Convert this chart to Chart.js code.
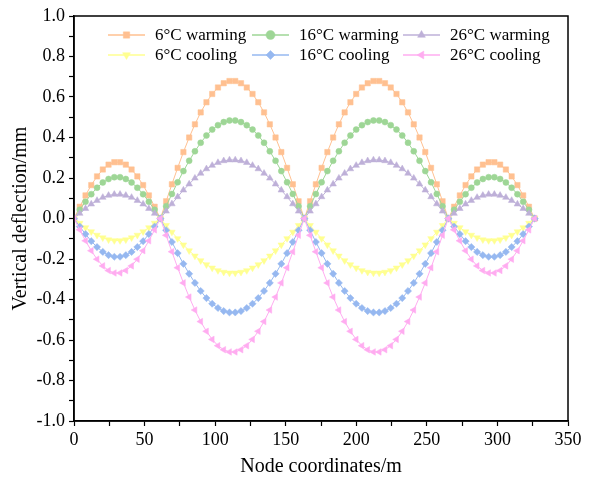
<!DOCTYPE html>
<html>
<head>
<meta charset="utf-8">
<script src="https://cdn.jsdelivr.net/npm/chart.js@4.4.1/dist/chart.umd.min.js"></script>
<style>
html,body{margin:0;padding:0;background:#fff;}
#c{display:block;}
</style>
</head>
<body>
<canvas id="c" width="595" height="482"></canvas>
<script>
const nodes = [0,4.08,8.16,12.24,16.32,20.4,24.48,28.56,32.64,36.72,40.8,44.88,48.96,53.04,57.12,61.2,
65.28,69.36,73.44,77.52,81.6,85.68,89.76,93.84,97.92,102,106.08,110.16,114.24,118.32,122.4,126.48,130.56,134.64,138.72,142.8,146.88,150.96,155.04,159.12,163.2,
167.28,171.36,175.44,179.52,183.6,187.68,191.76,195.84,199.92,204,208.08,212.16,216.24,220.32,224.4,228.48,232.56,236.64,240.72,244.8,248.88,252.96,257.04,261.12,265.2,
269.28,273.36,277.44,281.52,285.6,289.68,293.76,297.84,301.92,306,310.08,314.16,318.24,322.32,326.4];

const warm6 = [0,.058,.114,.165,.208,.242,.266,.278,.278,.266,.242,.208,.165,.114,.058,0,
.085,.169,.250,.328,.400,.465,.524,.574,.615,.647,.668,.679,.679,.668,.647,.615,.574,.524,.465,.400,.328,.250,.169,.085,0,
.085,.169,.250,.328,.400,.465,.524,.574,.615,.647,.668,.679,.679,.668,.647,.615,.574,.524,.465,.400,.328,.250,.169,.085,0,
.058,.114,.165,.208,.242,.266,.278,.278,.266,.242,.208,.165,.114,.058,0];

const warm16 = [0,.043,.083,.120,.152,.178,.195,.204,.204,.195,.178,.152,.120,.083,.043,0,
.061,.121,.179,.234,.285,.332,.374,.410,.439,.461,.476,.484,.484,.476,.461,.439,.410,.374,.332,.285,.234,.179,.121,.061,0,
.061,.121,.179,.234,.285,.332,.374,.410,.439,.461,.476,.484,.484,.476,.461,.439,.410,.374,.332,.285,.234,.179,.121,.061,0,
.043,.083,.120,.152,.178,.195,.204,.204,.195,.178,.152,.120,.083,.043,0];

const warm26 = [0,.025,.049,.071,.089,.104,.114,.119,.119,.114,.104,.089,.071,.049,.025,0,
.036,.072,.107,.140,.170,.199,.223,.245,.262,.276,.285,.289,.289,.285,.276,.262,.245,.223,.199,.170,.140,.107,.072,.036,0,
.036,.072,.107,.140,.170,.199,.223,.245,.262,.276,.285,.289,.289,.285,.276,.262,.245,.223,.199,.170,.140,.107,.072,.036,0,
.025,.049,.071,.089,.104,.114,.119,.119,.114,.104,.089,.071,.049,.025,0];

const cool6 = [0,-.023,-.045,-.065,-.082,-.095,-.105,-.109,-.109,-.105,-.095,-.082,-.065,-.045,-.023,0,
-.034,-.067,-.099,-.130,-.159,-.185,-.208,-.228,-.244,-.257,-.265,-.269,-.269,-.265,-.257,-.244,-.228,-.208,-.185,-.159,-.130,-.099,-.067,-.034,0,
-.034,-.067,-.099,-.130,-.159,-.185,-.208,-.228,-.244,-.257,-.265,-.269,-.269,-.265,-.257,-.244,-.228,-.208,-.185,-.159,-.130,-.099,-.067,-.034,0,
-.023,-.045,-.065,-.082,-.095,-.105,-.109,-.109,-.105,-.095,-.082,-.065,-.045,-.023,0];

const cool16 = [0,-.040,-.077,-.112,-.141,-.165,-.181,-.189,-.189,-.181,-.165,-.141,-.112,-.077,-.040,0,
-.058,-.116,-.171,-.224,-.273,-.318,-.358,-.393,-.421,-.442,-.457,-.464,-.464,-.457,-.442,-.421,-.393,-.358,-.318,-.273,-.224,-.171,-.116,-.058,0,
-.058,-.116,-.171,-.224,-.273,-.318,-.358,-.393,-.421,-.442,-.457,-.464,-.464,-.457,-.442,-.421,-.393,-.358,-.318,-.273,-.224,-.171,-.116,-.058,0,
-.040,-.077,-.112,-.141,-.165,-.181,-.189,-.189,-.181,-.165,-.141,-.112,-.077,-.040,0];

const cool26 = [0,-.056,-.110,-.159,-.201,-.234,-.257,-.269,-.269,-.257,-.234,-.201,-.159,-.110,-.056,0,
-.083,-.164,-.243,-.318,-.388,-.452,-.509,-.557,-.597,-.628,-.648,-.659,-.659,-.648,-.628,-.597,-.557,-.509,-.452,-.388,-.318,-.243,-.164,-.083,0,
-.083,-.164,-.243,-.318,-.388,-.452,-.509,-.557,-.597,-.628,-.648,-.659,-.659,-.648,-.628,-.597,-.557,-.509,-.452,-.388,-.318,-.243,-.164,-.083,0,
-.056,-.110,-.159,-.201,-.234,-.257,-.269,-.269,-.257,-.234,-.201,-.159,-.110,-.056,0];

const seriesLabels = ['6°C warming','16°C warming','26°C warming','6°C cooling','16°C cooling','26°C cooling'];
const seriesValues = [warm6, warm16, warm26, cool6, cool16, cool26];
const seriesColors = ['rgb(255,192,145)','rgb(158,214,150)','rgb(190,176,216)','rgb(255,255,145)','rgb(150,184,240)','rgb(255,172,240)'];
const seriesStyles = ['rect','circle','triangle','triangle','rectRot','triangle'];
const seriesRot = [0,0,0,180,0,270];
const seriesRadius = [3.8,3.0,3.8,3.8,3.6,3.8];

const xTicks = {min:0, max:350, step:25, labelEvery:50};
const yTicks = {min:-1, max:1, step:0.1};

Chart.defaults.font.family = '"Liberation Serif","Times New Roman",serif';
Chart.defaults.color = '#000';

const datasets = seriesValues.map((vals,i)=>({
  label: seriesLabels[i],
  data: nodes.map((x,j)=>({x:x, y:vals[j]})),
  borderColor: seriesColors[i],
  backgroundColor: seriesColors[i],
  borderWidth: 1,
  pointStyle: seriesStyles[i],
  pointRotation: seriesRot[i],
  pointRadius: seriesRadius[i],
  pointBorderWidth: 0.5,
  pointBorderColor: seriesColors[i],
  pointBackgroundColor: seriesColors[i],
  tension: 0,
  fill: false,
  order: 5 - i
}));

function drawMarker(ctx, style, rot, r, x, y, color){
  ctx.save();
  ctx.fillStyle = color; ctx.strokeStyle = color; ctx.lineWidth = 0.5;
  if (Chart.helpers && Chart.helpers.drawPoint) {
    Chart.helpers.drawPoint(ctx, {pointStyle: style, rotation: rot, radius: r, borderWidth: 0.5}, x, y);
  } else {
    ctx.beginPath(); ctx.arc(x,y,r,0,Math.PI*2); ctx.fill();
  }
  ctx.restore();
}

const framePlugin = {
  id: 'frame',
  afterDraw(chart){
    const {ctx, chartArea:a} = chart;
    ctx.save();
    ctx.strokeStyle = '#000';
    ctx.lineWidth = 1.5;
    ctx.strokeRect(a.left, a.top, a.right - a.left, a.bottom - a.top);
    ctx.restore();
    const cols = [108, 252, 403];
    const rows = [35, 55];
    const len = 37;
    chart.data.datasets.forEach((ds,i)=>{
      const cx = cols[i%3], cy = rows[Math.floor(i/3)];
      ctx.save();
      ctx.strokeStyle = ds.borderColor;
      ctx.lineWidth = 1.5;
      ctx.beginPath(); ctx.moveTo(cx, cy); ctx.lineTo(cx+len, cy); ctx.stroke();
      ctx.restore();
      drawMarker(ctx, ds.pointStyle, ds.pointRotation, 4.5, cx+len/2, cy, ds.borderColor);
      ctx.save();
      ctx.fillStyle = '#000';
      ctx.font = '17px "Liberation Serif"';
      ctx.textBaseline = 'middle';
      ctx.textAlign = 'left';
      ctx.fillText(ds.label, cx + len + 10, cy + 1);
      ctx.restore();
    });
  }
};

new Chart(document.getElementById('c'), {
  type: 'line',
  data: { datasets },
  options: {
    responsive: false,
    animation: false,
    layout: { padding: { top: 16, right: 27, left: 0, bottom: 0 } },
    plugins: { legend: { display: false }, tooltip: { enabled: false } },
    scales: {
      x: {
        type: 'linear',
        min: xTicks.min, max: xTicks.max,
        afterFit(s){ s.height = 61; },
        ticks: {
          stepSize: xTicks.step,
          autoSkip: false, maxRotation: 0,
          padding: 3,
          font: { size: 18 },
          color: '#000',
          callback: v => (Math.round(v) % xTicks.labelEvery === 0 ? String(Math.round(v)) : '')
        },
        grid: { drawOnChartArea: false, drawTicks: true, tickLength: 5, tickColor: '#000', tickWidth: 1.2 },
        border: { display: true, color: '#000', width: 1.5 },
        title: { display: true, text: 'Node coordinates/m', font: { size: 20 }, color: '#000', padding: { top: 0, bottom: 3 } }
      },
      y: {
        min: yTicks.min, max: yTicks.max,
        afterFit(s){ s.width = 74; },
        ticks: {
          stepSize: yTicks.step,
          autoSkip: false,
          padding: 4,
          font: { size: 18 },
          color: '#000',
          callback: v => { const k = Math.round(v*10); return (k % 2 === 0) ? (k/10).toFixed(1) : ''; }
        },
        grid: { drawOnChartArea: false, drawTicks: true, tickLength: 5, tickColor: '#000', tickWidth: 1.2 },
        border: { display: true, color: '#000', width: 1.5 },
        title: { display: true, text: 'Vertical deflection/mm', font: { size: 20 }, color: '#000', padding: { top: 9, bottom: 0 } }
      }
    }
  },
  plugins: [framePlugin]
});
</script>
</body>
</html>
